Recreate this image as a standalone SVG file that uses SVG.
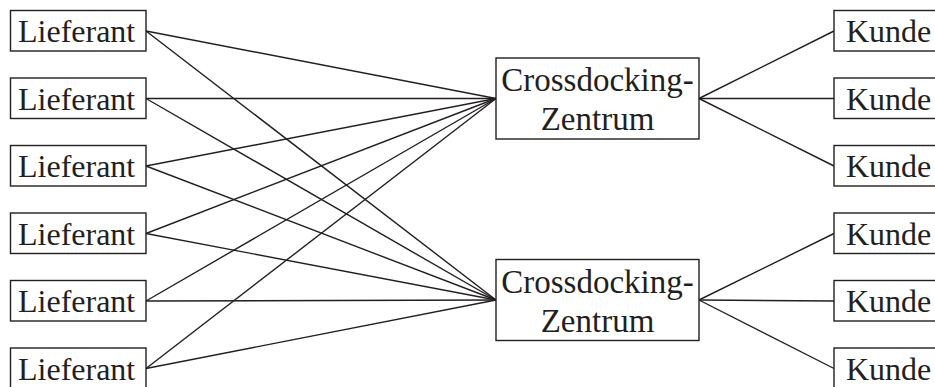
<svg xmlns="http://www.w3.org/2000/svg" width="935" height="387" viewBox="0 0 935 387">
  <style>
    rect.box { fill: #fff; stroke: #231f20; stroke-width: 1.4; }
    text { font-family: "Liberation Serif", "Times New Roman", serif; fill: #231f20; }
    .small { font-size: 32px; }
    .big { font-size: 33px; text-anchor: middle; }
    #connectors line { stroke: #231f20; stroke-width: 1.4; }
  </style>

  <!-- connectors: suppliers to both hubs, hubs to their customers -->
  <g id="connectors">
    <line x1="146" y1="31" x2="496" y2="98.5"/>
    <line x1="146" y1="31" x2="496" y2="300"/>
    <line x1="146" y1="98.5" x2="496" y2="98.5"/>
    <line x1="146" y1="98.5" x2="496" y2="300"/>
    <line x1="146" y1="166" x2="496" y2="98.5"/>
    <line x1="146" y1="166" x2="496" y2="300"/>
    <line x1="146" y1="233.5" x2="496" y2="98.5"/>
    <line x1="146" y1="233.5" x2="496" y2="300"/>
    <line x1="146" y1="301" x2="496" y2="98.5"/>
    <line x1="146" y1="301" x2="496" y2="300"/>
    <line x1="146" y1="368.5" x2="496" y2="98.5"/>
    <line x1="146" y1="368.5" x2="496" y2="300"/>
    <line x1="699" y1="98.5" x2="834" y2="31"/>
    <line x1="699" y1="98.5" x2="834" y2="98.5"/>
    <line x1="699" y1="98.5" x2="834" y2="166"/>
    <line x1="699" y1="300" x2="834" y2="233.5"/>
    <line x1="699" y1="300" x2="834" y2="301"/>
    <line x1="699" y1="300" x2="834" y2="368.5"/>
  </g>

  <!-- suppliers -->
  <g id="lieferant1"><rect class="box" x="10.5" y="10.5" width="135.5" height="40.5"/><text class="small" x="18" y="42">Lieferant</text></g>
  <g id="lieferant2"><rect class="box" x="10.5" y="78" width="135.5" height="40.5"/><text class="small" x="18" y="109.5">Lieferant</text></g>
  <g id="lieferant3"><rect class="box" x="10.5" y="145.5" width="135.5" height="40.5"/><text class="small" x="18" y="177">Lieferant</text></g>
  <g id="lieferant4"><rect class="box" x="10.5" y="213" width="135.5" height="40.5"/><text class="small" x="18" y="244.5">Lieferant</text></g>
  <g id="lieferant5"><rect class="box" x="10.5" y="280.5" width="135.5" height="40.5"/><text class="small" x="18" y="312">Lieferant</text></g>
  <g id="lieferant6"><rect class="box" x="10.5" y="348" width="135.5" height="40.5"/><text class="small" x="18" y="379.5">Lieferant</text></g>

  <!-- crossdocking hubs -->
  <g id="zentrum1"><rect class="box" x="496" y="58" width="203" height="81"/><text class="big" x="597.5" y="91">Crossdocking-</text><text class="big" x="597.5" y="130">Zentrum</text></g>
  <g id="zentrum2"><rect class="box" x="496" y="259.5" width="203" height="81"/><text class="big" x="597.5" y="292.5">Crossdocking-</text><text class="big" x="597.5" y="331.5">Zentrum</text></g>

  <!-- customers -->
  <g id="kunde1"><rect class="box" x="834" y="10.5" width="115" height="40.5"/><text class="small" x="846" y="42">Kunde</text></g>
  <g id="kunde2"><rect class="box" x="834" y="78" width="115" height="40.5"/><text class="small" x="846" y="109.5">Kunde</text></g>
  <g id="kunde3"><rect class="box" x="834" y="145.5" width="115" height="40.5"/><text class="small" x="846" y="177">Kunde</text></g>
  <g id="kunde4"><rect class="box" x="834" y="213" width="115" height="40.5"/><text class="small" x="846" y="244.5">Kunde</text></g>
  <g id="kunde5"><rect class="box" x="834" y="280.5" width="115" height="40.5"/><text class="small" x="846" y="312">Kunde</text></g>
  <g id="kunde6"><rect class="box" x="834" y="348" width="115" height="40.5"/><text class="small" x="846" y="379.5">Kunde</text></g>
</svg>
